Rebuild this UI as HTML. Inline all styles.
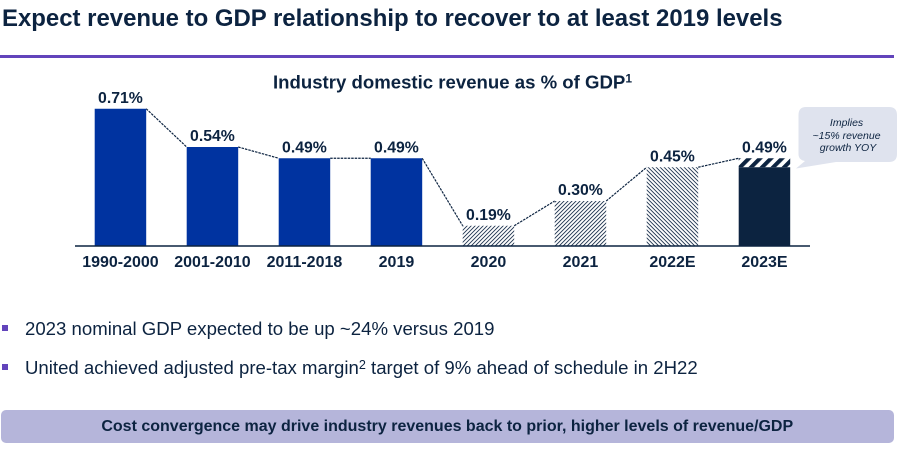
<!DOCTYPE html>
<html lang="en">
<head>
<meta charset="utf-8">
<title>Revenue to GDP</title>
<style>
html,body{margin:0;padding:0;background:#fff}
#page{position:relative;width:906px;height:454px;overflow:hidden;background:#fff;font-family:"Liberation Sans",sans-serif;color:#0c2340}
.abs{position:absolute;white-space:nowrap}
sup{font-size:68%;line-height:0;vertical-align:baseline;position:relative;top:-.42em}
svg text{font-family:"Liberation Sans",sans-serif}
</style>
</head>
<body>
<div id="page">
  <div class="abs" style="left:2px;top:6px;font-size:23.95px;line-height:26px;font-weight:700">Expect revenue to GDP relationship to recover to at least 2019 levels</div>
  <div class="abs" style="left:0;top:55px;width:894px;height:3px;background:#6244bb"></div>

  <svg id="chart" width="906" height="300" viewBox="0 0 906 300" style="position:absolute;left:0;top:0">
    <defs>
      <pattern id="hatch-up" patternUnits="userSpaceOnUse" width="2.83" height="2.83" patternTransform="rotate(45)">
        <rect width="2.83" height="2.83" fill="#fff"/><rect width="0.85" height="2.83" fill="#0c2340"/>
      </pattern>
      <pattern id="hatch-down" patternUnits="userSpaceOnUse" width="2.83" height="2.83" patternTransform="rotate(-45)">
        <rect width="2.83" height="2.83" fill="#fff"/><rect width="0.85" height="2.83" fill="#0c2340"/>
      </pattern>
      <pattern id="hatch-wide" patternUnits="userSpaceOnUse" width="7.8" height="7.8" patternTransform="rotate(45)">
        <rect width="7.8" height="7.8" fill="#fff"/><rect width="4" height="7.8" fill="#0c2340"/>
      </pattern>
    </defs>
    <text x="452.5" y="88.5" text-anchor="middle" font-size="18.6" font-weight="700" fill="#0c2340">Industry domestic revenue as % of GDP<tspan font-size="12" dy="-6">1</tspan></text>
    <g id="connectors"></g>
    <g id="bars"></g>
    <g id="value-labels"></g>
    <g id="category-labels"></g>
    <line x1="75" x2="810" y1="246" y2="246" stroke="#0c2340" stroke-width="1.4"/>
    <g>
      <path d="M806 107H889Q897 107 897 115V154Q897 162 889 162H836L796 168.500L805 161Q798.500 160 798.500 154V115Q798.500 107 806 107Z" fill="#dfe3ee"/>
      <text text-anchor="middle" font-size="10.5" font-style="italic" fill="#0c2340">
        <tspan x="848" y="126">Implies</tspan>
        <tspan x="848" y="139">~15% revenue</tspan>
        <tspan x="848" y="151">growth YOY</tspan>
      </text>
    </g>
  </svg>

  <div class="abs" style="left:2px;top:325px;width:6px;height:6px;background:#6244bb"></div>
  <div class="abs" style="left:25px;top:318px;font-size:18.6px;line-height:22px">2023 nominal GDP expected to be up ~24% versus 2019</div>
  <div class="abs" style="left:2px;top:364px;width:6px;height:6px;background:#6244bb"></div>
  <div class="abs" style="left:25px;top:357px;font-size:18.6px;line-height:22px">United achieved adjusted pre-tax margin<sup>2</sup> target of 9% ahead of schedule in 2H22</div>

  <div class="abs" style="left:1px;top:410px;width:892.500px;height:33px;border-radius:5px;background:#b5b5da;text-align:center;font-size:16px;line-height:33px;font-weight:700">Cost convergence may drive industry revenues back to prior, higher levels of revenue/GDP</div>
</div>
<script>
const categories = ['1990-2000','2001-2010','2011-2018','2019','2020','2021','2022E','2023E'];
const values = [0.71,0.54,0.49,0.49,0.19,0.30,0.45,0.49];
const solidBase = [null,null,null,null,null,null,null,0.45];
const barKinds = ['solid','solid','solid','solid','hatch-up','hatch-up','hatch-down','stacked'];

const NS = 'http://www.w3.org/2000/svg';
const axisFloor = 0.10;
const baselineY = 246;
const pxPerUnit = 225;
const firstBarX = 94.7;
const barStep = 92;
const barWidth = 51.5;
const xOf = i => firstBarX + i * barStep;
const yOf = v => baselineY - (v - axisFloor) * pxPerUnit;
const make = (tag, attrs) => {
  const el = document.createElementNS(NS, tag);
  for (const k in attrs) el.setAttribute(k, attrs[k]);
  return el;
};
const barsG = document.getElementById('bars');
const connG = document.getElementById('connectors');
const valG = document.getElementById('value-labels');
const catG = document.getElementById('category-labels');

categories.forEach((cat, i) => {
  const x = xOf(i), top = yOf(values[i]), kind = barKinds[i];
  if (kind === 'stacked') {
    const mid = yOf(solidBase[i]);
    const cap = make('rect', {x: x, y: top, width: barWidth, height: mid - top, fill: 'url(#hatch-wide)'});
    
    
    barsG.appendChild(cap);
    const base = make('rect', {x: x, y: mid, width: barWidth, height: baselineY - mid, fill: '#0c2340'});
    
    
    barsG.appendChild(base);
  } else {
    const fill = kind === 'solid' ? '#0033a0' : 'url(#' + kind + ')';
    const bar = make('rect', {x: x, y: top, width: barWidth, height: baselineY - top, fill: fill});
    
    
    barsG.appendChild(bar);
  }
  if (i < categories.length - 1) {
    const link = make('line', {x1: x + barWidth, y1: top, x2: xOf(i + 1), y2: yOf(values[i + 1]), stroke: '#0c2340', 'stroke-width': 1.2, 'stroke-dasharray': '2.5 1'});
    
    
    connG.appendChild(link);
  }
  const val = make('text', {x: x + barWidth / 2, y: top - 6, 'text-anchor': 'middle', 'font-size': 15.8, 'font-weight': 700, fill: '#0c2340'});
  val.textContent = values[i].toFixed(2) + '%';
  
  
  valG.appendChild(val);
  const lab = make('text', {x: x + barWidth / 2, y: 267, 'text-anchor': 'middle', 'font-size': 16, 'font-weight': 700, fill: '#0c2340'});
  lab.textContent = cat;
  
  
  catG.appendChild(lab);
});
</script>
</body>
</html>
